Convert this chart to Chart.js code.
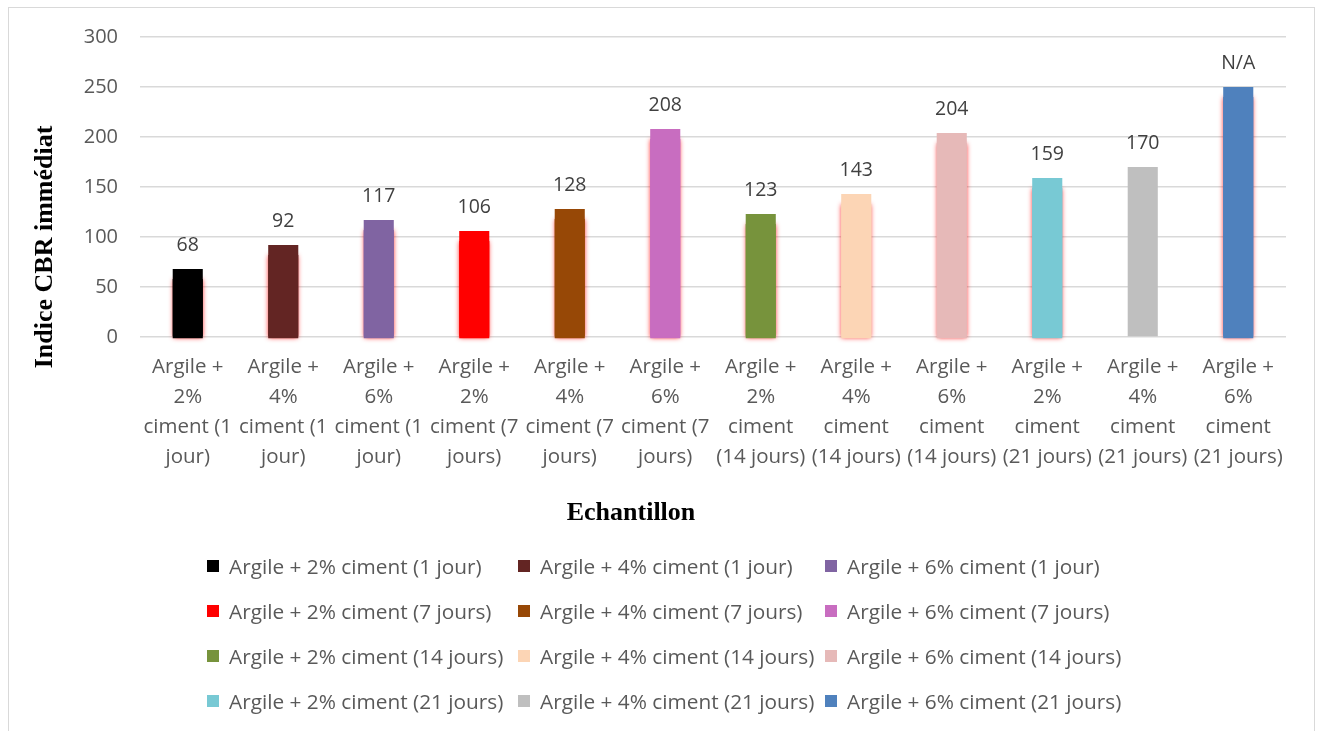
<!DOCTYPE html>
<html lang="fr">
<head>
<meta charset="utf-8">
<script src="https://cdn.jsdelivr.net/npm/chart.js@4/dist/chart.umd.min.js"></script>
<style>
  html, body { margin: 0; padding: 0; background: #fff; }
  #wrap { position: relative; width: 1321px; height: 731px; overflow: hidden; }
  #frame { position: absolute; left: 8px; top: 7px; width: 1307px; height: 740px;
           border: 1.5px solid #d9d9d9; box-sizing: border-box; }
  #chart { position: absolute; left: 0; top: 0; }
  #legend { position: absolute; left: 207px; top: 548px; display: grid;
            grid-template-columns: 311px 307px 300px; row-gap: 10px;
            font-family: 'Open Sans', 'Noto Sans', sans-serif; font-size: 20.8px;
            color: #595959; }
  .item { display: flex; align-items: center; height: 35px; white-space: nowrap; }
  .sw { width: 12px; height: 12px; margin-right: 10px; flex: none; }
</style>
</head>
<body>
<div id="wrap">
  <div id="frame"></div>
  <canvas id="chart" width="1321" height="731"></canvas>
  <div id="legend"></div>
</div>
<script>
/* DONNÉES */
const echantillons = [
  'Argile + 2% ciment (1 jour)', 'Argile + 4% ciment (1 jour)', 'Argile + 6% ciment (1 jour)',
  'Argile + 2% ciment (7 jours)', 'Argile + 4% ciment (7 jours)', 'Argile + 6% ciment (7 jours)',
  'Argile + 2% ciment (14 jours)', 'Argile + 4% ciment (14 jours)', 'Argile + 6% ciment (14 jours)',
  'Argile + 2% ciment (21 jours)', 'Argile + 4% ciment (21 jours)', 'Argile + 6% ciment (21 jours)',
];

// Libellés de l'axe X tels que coupés dans l'original
const tickLines = [
  ['Argile +', '2%', 'ciment (1', 'jour)'],
  ['Argile +', '4%', 'ciment (1', 'jour)'],
  ['Argile +', '6%', 'ciment (1', 'jour)'],
  ['Argile +', '2%', 'ciment (7', 'jours)'],
  ['Argile +', '4%', 'ciment (7', 'jours)'],
  ['Argile +', '6%', 'ciment (7', 'jours)'],
  ['Argile +', '2%', 'ciment', '(14 jours)'],
  ['Argile +', '4%', 'ciment', '(14 jours)'],
  ['Argile +', '6%', 'ciment', '(14 jours)'],
  ['Argile +', '2%', 'ciment', '(21 jours)'],
  ['Argile +', '4%', 'ciment', '(21 jours)'],
  ['Argile +', '6%', 'ciment', '(21 jours)'],
];

const cbr = [68, 92, 117, 106, 128, 208, 123, 143, 204, 159, 170, 250];
const valueLabels = ['68', '92', '117', '106', '128', '208', '123', '143', '204', '159', '170', 'N/A'];
const yTicks = [0, 50, 100, 150, 200, 250, 300];

const yTitle = 'Indice CBR immédiat';
const xTitle = 'Echantillon';

/* STYLE */
const barColors = [
  '#000000', '#632523', '#8064a2',
  '#ff0000', '#974806', '#c86dc0',
  '#77933c', '#fcd5b5', '#e6b9b8',
  '#78c9d4', '#bfbfbf', '#4f81bd',
];
// la barre grise n'a pas de halo rouge
const hasGlow = [true, true, true, true, true, true, true, true, true, true, false, true];

const TEXT = '#595959';
const GRID = '#d9d9d9';
const SANS = "'Open Sans', 'Noto Sans', sans-serif";
const SERIF = "'Liberation Serif', 'DejaVu Serif', serif";

// Halo rouge fin autour des barres (dessiné avant les barres)
const glowPlugin = {
  id: 'glow',
  beforeDatasetDraw(chart) {
    const ctx = chart.ctx;
    const meta = chart.getDatasetMeta(0);
    meta.data.forEach((bar, i) => {
      if (!hasGlow[i]) return;
      const top = bar.y + 10;
      ctx.save();
      ctx.shadowColor = 'rgba(255, 0, 0, 0.9)';
      ctx.shadowBlur = 5;
      ctx.fillStyle = barColors[i];
      ctx.fillRect(bar.x - bar.width / 2, top, bar.width, bar.base - top + 2);
      ctx.restore();
    });
  },
};

// Étiquettes de valeur au-dessus des barres + titres d'axes (placés comme dans Excel)
const textPlugin = {
  id: 'texts',
  afterDatasetsDraw(chart) {
    const ctx = chart.ctx;
    const meta = chart.getDatasetMeta(0);
    ctx.save();
    ctx.font = '19.5px ' + SANS;
    ctx.fillStyle = '#404040';
    ctx.textAlign = 'center';
    ctx.textBaseline = 'middle';
    meta.data.forEach((bar, i) => {
      ctx.fillText(valueLabels[i], bar.x, bar.y - 24);
    });

    ctx.fillStyle = '#000';
    ctx.font = 'bold 26px ' + SERIF;
    ctx.fillText(xTitle, 631, 513);

    ctx.translate(45, 247);
    ctx.rotate(-Math.PI / 2);
    ctx.fillText(yTitle, 0, 0);
    ctx.restore();
  },
};

new Chart(document.getElementById('chart'), {
  type: 'bar',
  data: {
    labels: tickLines,
    datasets: [{
      label: yTitle,
      data: cbr,
      backgroundColor: barColors,
      categoryPercentage: 1,
      barPercentage: 0.315,
    }],
  },
  options: {
    responsive: false,
    animation: false,
    layout: { padding: { left: 28, top: 37, right: 35, bottom: 201 } },
    plugins: {
      legend: { display: false },
      tooltip: { enabled: false },
    },
    scales: {
      x: {
        grid: { display: false, drawTicks: false },
        border: { display: false },
        ticks: {
          autoSkip: false, maxRotation: 0, minRotation: 0, padding: 15,
          color: TEXT, font: { family: SANS, size: 20.5, lineHeight: 1.46 },
        },
        afterFit: (s) => { s.height = 193; },
      },
      y: {
        min: 0, max: 300,
        afterBuildTicks: (s) => { s.ticks = yTicks.map(v => ({ value: v })); },
        grid: { color: GRID, lineWidth: 1.5, drawTicks: false },
        border: { display: false },
        ticks: { padding: 22, color: TEXT, font: { family: SANS, size: 20 } },
        afterFit: (s) => { s.width = 112; },
      },
    },
  },
  plugins: [glowPlugin, textPlugin],
});

// Légende en grille 3 colonnes
const legend = document.getElementById('legend');
echantillons.forEach((name, i) => {
  const item = document.createElement('div');
  item.className = 'item';
  const sw = document.createElement('span');
  sw.className = 'sw';
  sw.style.background = barColors[i];
  const txt = document.createElement('span');
  txt.textContent = name;
  item.append(sw, txt);
  legend.appendChild(item);
});
</script>
</body>
</html>
